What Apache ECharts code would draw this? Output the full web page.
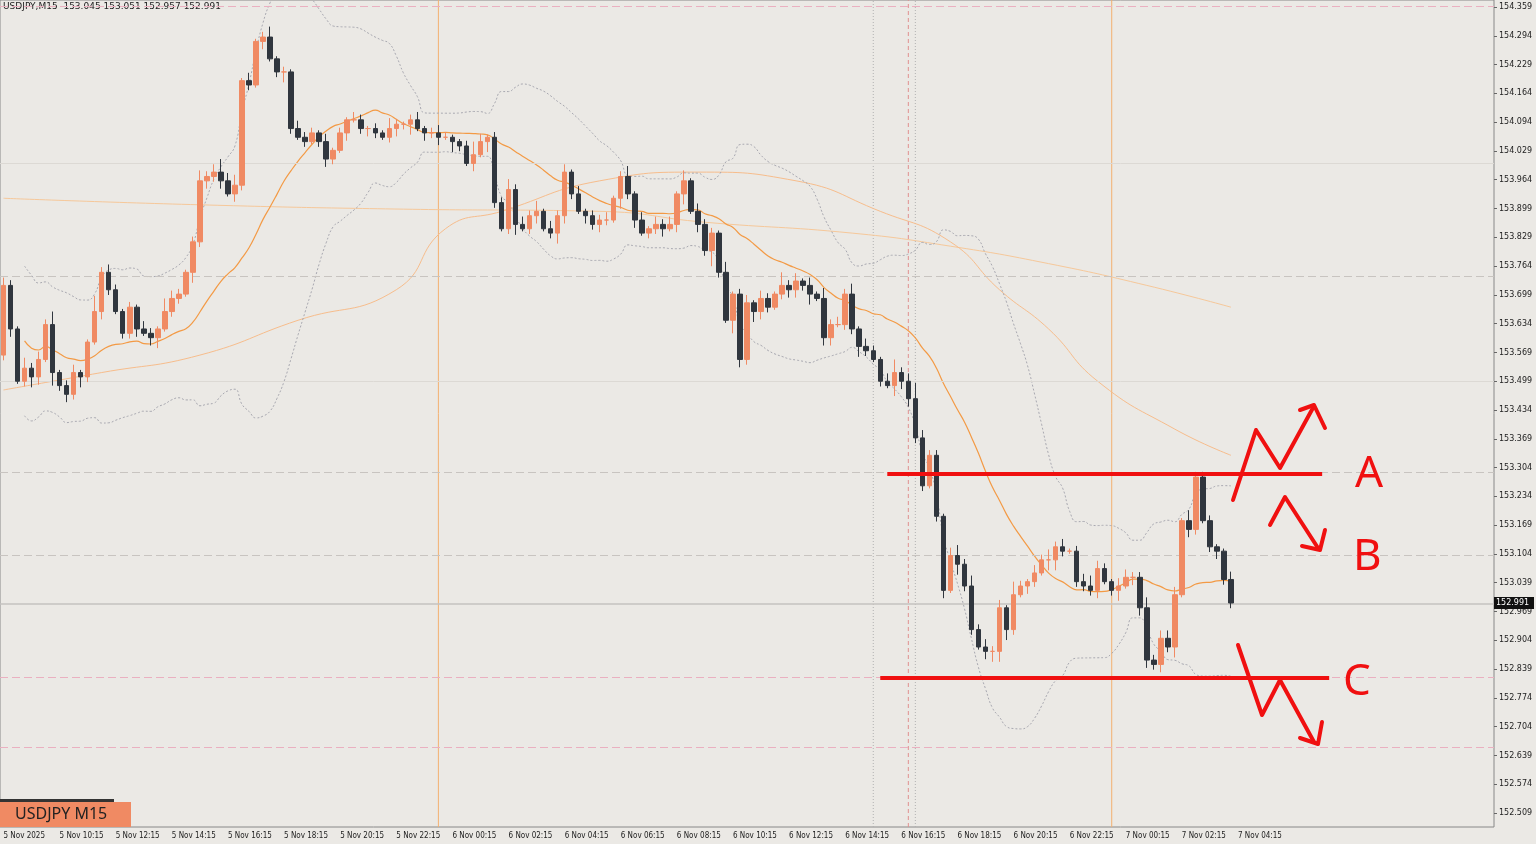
<!DOCTYPE html><html><head><meta charset="utf-8"><script src="https://cdn.jsdelivr.net/npm/echarts@6/dist/echarts.min.js"></script>
<style>html,body{margin:0;background:#ebe9e5}#c{width:1536px;height:844px}</style></head><body><div id="c"></div><script>
const firstOpen=153.56;
const closes=[153.72,153.62,153.50,153.53,153.51,153.55,153.63,153.52,153.49,153.47,153.52,153.51,153.59,153.66,153.75,153.71,153.66,153.61,153.67,153.62,153.61,153.60,153.62,153.66,153.69,153.70,153.75,153.82,153.96,153.97,153.98,153.96,153.93,153.95,154.19,154.18,154.28,154.29,154.24,154.21,154.21,154.08,154.06,154.05,154.07,154.05,154.01,154.03,154.07,154.10,154.10,154.08,154.08,154.07,154.06,154.08,154.09,154.09,154.10,154.08,154.07,154.07,154.06,154.06,154.05,154.04,154.00,154.02,154.05,154.06,153.91,153.85,153.94,153.86,153.85,153.88,153.89,153.85,153.84,153.88,153.98,153.93,153.89,153.88,153.86,153.87,153.87,153.92,153.97,153.93,153.87,153.84,153.85,153.86,153.85,153.86,153.93,153.96,153.89,153.86,153.80,153.84,153.75,153.64,153.70,153.55,153.68,153.66,153.69,153.67,153.70,153.72,153.71,153.73,153.72,153.70,153.69,153.60,153.63,153.63,153.70,153.62,153.58,153.57,153.55,153.50,153.49,153.52,153.50,153.46,153.37,153.26,153.33,153.19,153.02,153.10,153.08,153.03,152.93,152.89,152.88,152.88,152.98,152.93,153.01,153.03,153.04,153.06,153.09,153.09,153.12,153.11,153.11,153.04,153.03,153.02,153.07,153.04,153.02,153.03,153.05,153.05,152.98,152.86,152.85,152.91,152.89,153.01,153.18,153.16,153.28,153.18,153.12,153.11,153.045,152.991];
const wickHi="3214232512311623212132153212423534131241213221312132121421231232112531224232413231312231241313231413221412313215231314232413213523632213424232315213242312343213322423331422211343221";
const wickLo="2312431523242132122313412214232313221312421212321312321232413231421314212412312432132321423122313413262153243212332413312242121433221231422134442132144212223124133323241321232213113242";
const ma200Pts=[[0,153.92],[28,153.905],[57,153.895],[85,153.89],[100,153.865],[121,153.84],[135,153.81],[149,153.77],[163,153.72],[175,153.67]];
const ma50Pts=[[0,153.48],[14,153.52],[28,153.56],[42,153.64],[56,153.71],[63,153.85],[71,153.89],[85,153.96],[99,153.98],[113,153.96],[125,153.89],[135,153.82],[142,153.71],[149,153.62],[156,153.50],[167,153.39],[175,153.33]];
const yTickLabels=['152.509','152.574','152.639','152.704','152.774','152.839','152.904','152.969','153.039','153.104','153.169','153.234','153.304','153.369','153.434','153.499','153.569','153.634','153.699','153.764','153.829','153.899','153.964','154.029','154.094','154.164','154.229','154.294','154.359'];
const xTickLabels=['5 Nov 2025','5 Nov 10:15','5 Nov 12:15','5 Nov 14:15','5 Nov 16:15','5 Nov 18:15','5 Nov 20:15','5 Nov 22:15','6 Nov 00:15','6 Nov 02:15','6 Nov 04:15','6 Nov 06:15','6 Nov 08:15','6 Nov 10:15','6 Nov 12:15','6 Nov 14:15','6 Nov 16:15','6 Nov 18:15','6 Nov 20:15','6 Nov 22:15','7 Nov 00:15','7 Nov 02:15','7 Nov 04:15'];
const levelA=153.287, levelC=152.819;
const hLinesDash=[[153.735,'#c8c4c0'],[153.287,'#c8c4c0'],[153.097,'#c8c4c0'],[152.819,'#eab0c0'],[152.658,'#eab0c0'],[154.359,'#eab0c0']];
const hLinesSolid=[154.001,153.500];
const vLines=[['62','#f3b070','solid'],['158','#f3b070','solid'],['124','#b0b0b0','dot'],['129','#e09090','dash'],['130','#b0b0b0','dot']];

const N=213, n=closes.length;
const cats=[];for(let i=0;i<N;i++)cats.push(String(i));
const candles=[];let prev=firstOpen;
for(let i=0;i<n;i++){const o=(i==n-1)?153.045:prev,c=closes[i];const wh=+(wickHi[i]||1)*0.006,wl=+(wickLo[i]||1)*0.006;candles.push([o,c,Math.min(o,c)-wl,Math.max(o,c)+wh]);prev=c;}
const ma20=[],up=[],lo=[];
for(let i=0;i<n;i++){const s=closes.slice(Math.max(0,i-19),i+1);const m=s.reduce((a,b)=>a+b,0)/s.length;const sd=Math.sqrt(s.reduce((a,b)=>a+(b-m)*(b-m),0)/s.length);ma20.push(i<3?null:+m.toFixed(4));up.push(i<3?null:+(m+2*sd).toFixed(4));lo.push(i<3?null:+(m-2*sd).toFixed(4));}
const ch=echarts.init(document.getElementById('c'));
const pxPer=(154.359-152.509)/806;
const yMin=152.509-14*pxPer,yMax=154.359+7*pxPer;
const mlData=[];
hLinesDash.forEach(h=>mlData.push({yAxis:h[0],lineStyle:{color:h[1],type:[8,4],width:1}}));
hLinesSolid.forEach(v=>mlData.push({yAxis:v,lineStyle:{color:'#dcd9d4',type:'solid',width:1}}));
mlData.push({yAxis:152.991,lineStyle:{color:'#c4c2bf',type:'solid',width:1.5}});
const vSeries=vLines.map(v=>({type:'line',data:[[v[0],yMin],[v[0],yMax]],symbol:'none',silent:true,z:1,
  lineStyle:{color:v[1],width:1,type:v[2]=='solid'?'solid':(v[2]=='dot'?[1,2]:[4,3])}}));
const red='#f01010';
function arrow(pts){return {type:'polyline',shape:{points:pts},style:{stroke:red,lineWidth:4,fill:null,lineCap:'round',lineJoin:'round'},z:100};}
ch.setOption({
 backgroundColor:'#ebe9e5',animation:false,
 grid:[{left:0,right:42,top:0,bottom:17,show:true,borderColor:'#888',borderWidth:1},{left:0,right:42,top:7,bottom:31}],
 xAxis:[{type:'category',data:cats,gridIndex:0,boundaryGap:true,axisLine:{show:false},axisTick:{show:false},
   axisLabel:{interval:7,align:'left',fontSize:8,color:'#222',fontFamily:'DejaVu Sans Condensed, DejaVu Sans',margin:5,formatter:(v,i)=>xTickLabels[i/8]||''},splitLine:{show:false}},
  {type:'category',gridIndex:1,show:false,data:['a']}],
 yAxis:[{type:'value',gridIndex:0,min:yMin,max:yMax,show:false,splitLine:{show:false}},
  {type:'category',gridIndex:1,position:'right',data:yTickLabels,boundaryGap:false,axisLine:{show:false},axisTick:{show:true,length:3,lineStyle:{color:'#666'}},
   axisLabel:{fontSize:8,color:'#222',fontFamily:'DejaVu Sans',margin:5},splitLine:{show:false}}],
 series:[
  {type:'line',xAxisIndex:0,yAxisIndex:0,data:ma200Pts.map(p=>[String(p[0]),p[1]]),symbol:'none',smooth:true,lineStyle:{color:'#f6c89a',width:1}},
  {type:'line',data:ma50Pts.map(p=>[String(p[0]),p[1]]),symbol:'none',smooth:true,lineStyle:{color:'#f7bd8c',width:1}},
  {type:'line',data:up,symbol:'none',smooth:true,lineStyle:{color:'#a8a8b0',width:1,type:[2,2]}},
  {type:'line',data:lo,symbol:'none',smooth:true,lineStyle:{color:'#a8a8b0',width:1,type:[2,2]}},
  {type:'line',data:ma20,symbol:'none',smooth:true,lineStyle:{color:'#f39a45',width:1.2}},
  {type:'candlestick',data:candles,barWidth:5,itemStyle:{color:'#f08a63',color0:'#30363e',borderColor:'#f08a63',borderColor0:'#30363e',borderWidth:1},
   markLine:{silent:true,symbol:'none',label:{show:false},data:mlData},z:5},
  {type:'line',data:[['126',levelA],['188',levelA]],symbol:'none',lineStyle:{color:red,width:4},z:50},
  {type:'line',data:[['125',levelC],['189',levelC]],symbol:'none',lineStyle:{color:red,width:4},z:50}
 ].concat(vSeries),
 graphic:[
  {type:'rect',left:1494,top:597,shape:{width:40,height:12},style:{fill:'#111'},z:100},
  {type:'text',left:1496,top:599,style:{text:'152.991',fill:'#fff',font:'8px DejaVu Sans'},z:101},
  {type:'text',left:3,top:2,style:{text:'USDJPY,M15  153.045 153.051 152.957 152.991',fill:'#222',font:'9px DejaVu Sans'}},
  {type:'rect',left:0,top:799,shape:{width:114,height:3},style:{fill:'#333'},z:100},
  {type:'rect',left:0,top:802,shape:{width:131,height:25},style:{fill:'#f08a63'},z:100},
  {type:'text',left:15,top:806,style:{text:'USDJPY M15',fill:'#222',font:'16px Noto Sans'},z:101},
  arrow([[1233,500],[1256,430],[1280,468],[1314,406]]),arrow([[1300,410],[1314,405],[1325,428]]),
  arrow([[1270,525],[1285,497],[1318,548]]),arrow([[1302,546],[1320,550],[1325,530]]),
  arrow([[1238,645],[1262,715],[1280,680],[1314,742]]),arrow([[1300,738],[1318,744],[1322,722]]),
  {type:'text',left:1355,top:452,style:{text:'A',fill:red,font:'44px Noto Sans'},z:100},
  {type:'text',left:1353,top:535,style:{text:'B',fill:red,font:'44px Noto Sans'},z:100},
  {type:'text',left:1343,top:660,style:{text:'C',fill:red,font:'44px Noto Sans'},z:100}
 ]
});
</script></body></html>
